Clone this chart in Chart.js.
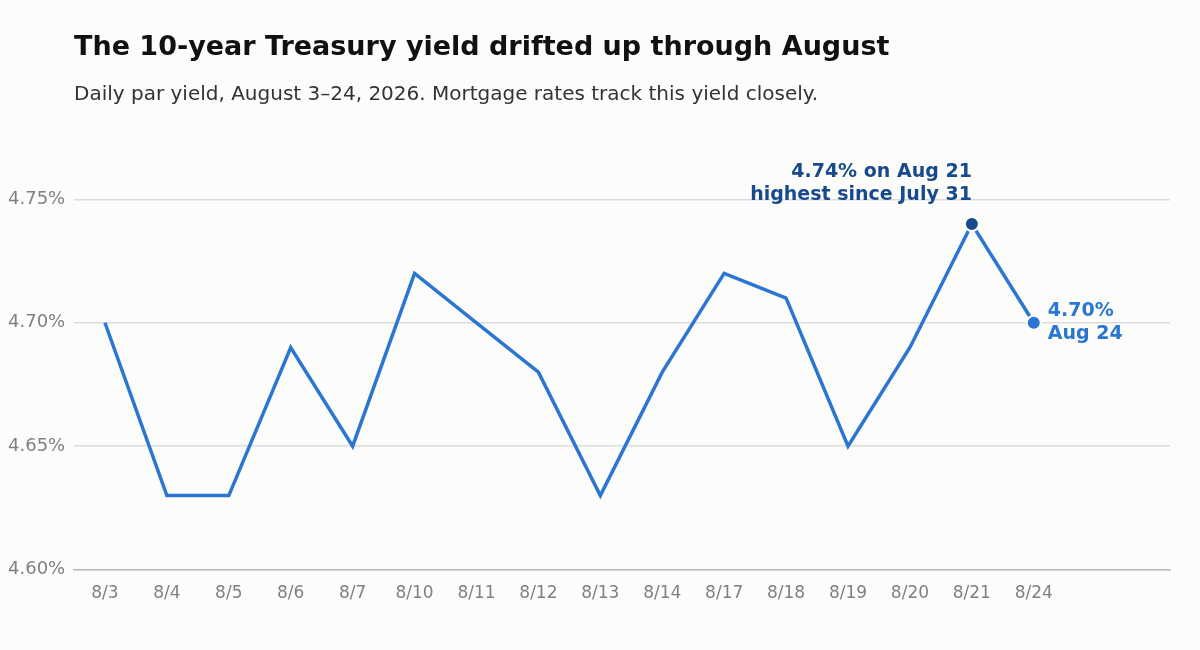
<!DOCTYPE html>
<html>
<head>
<meta charset="utf-8">
<script src="https://cdn.jsdelivr.net/npm/chart.js@4"></script>
<style>
  body { margin: 0; background: #fcfcfb; }
  #wrap { width: 1200px; height: 650px; position: relative; }
</style>
</head>
<body>
<div id="wrap"><canvas id="c"></canvas></div>
<script>
const dates = ['8/3','8/4','8/5','8/6','8/7','8/10','8/11','8/12','8/13','8/14','8/17','8/18','8/19','8/20','8/21','8/24'];
const yields = [4.70,4.63,4.63,4.69,4.65,4.72,4.70,4.68,4.63,4.68,4.72,4.71,4.65,4.69,4.74,4.70];
const yTicks = [4.60,4.65,4.70,4.75];

const blue = '#2a76d2';
const darkBlue = '#174a8c';
const font = '"DejaVu Sans", sans-serif';

// title, subtitle and callouts
const textPlugin = {
    id: 'texts',
    afterDraw(chart) {
        const ctx = chart.ctx;
        const x = chart.scales.x, y = chart.scales.y;
        ctx.save();
        ctx.textBaseline = 'middle';
        ctx.fillStyle = '#111';
        ctx.font = 'bold 27px ' + font;
        ctx.fillText('The 10-year Treasury yield drifted up through August', 74, 48);
        ctx.fillStyle = '#333';
        ctx.font = '20px ' + font;
        ctx.fillText('Daily par yield, August 3\u201324, 2026. Mortgage rates track this yield closely.', 74, 95);

        // peak callout
        const px = x.getPixelForValue(14), py = y.getPixelForValue(yields[14]);
        ctx.font = 'bold 19px ' + font;
        ctx.fillStyle = darkBlue;
        ctx.textAlign = 'right';
        ctx.fillText('4.74% on Aug 21', px, py - 52);
        ctx.fillText('highest since July 31', px, py - 29);

        // last value callout
        const lx = x.getPixelForValue(15), ly = y.getPixelForValue(yields[15]);
        ctx.fillStyle = blue;
        ctx.textAlign = 'left';
        ctx.fillText('4.70%', lx + 14, ly - 12);
        ctx.fillText('Aug 24', lx + 14, ly + 11);
        ctx.restore();
    }
};

new Chart(document.getElementById('c'), {
    type: 'line',
    data: {
        datasets: [{
            data: yields.map((v, i) => ({ x: i, y: v })),
            borderColor: blue,
            borderWidth: 3.5,
            tension: 0,
            pointRadius: yields.map((v, i) => i >= 14 ? 7 : 0),
            pointBackgroundColor: yields.map((v, i) => i === 14 ? darkBlue : blue),
            pointBorderColor: '#fcfcfb',
            pointBorderWidth: 2,
            clip: false
        }]
    },
    options: {
        responsive: true,
        maintainAspectRatio: false,
        animation: false,
        layout: { padding: { top: 150, right: 30, bottom: 40, left: 8 } },
        plugins: { legend: { display: false }, tooltip: { enabled: false } },
        scales: {
            x: {
                type: 'linear',
                min: -0.5,
                max: 17.2,
                afterBuildTicks: s => { s.ticks = dates.map((d, i) => ({ value: i })); },
                ticks: {
                    color: '#808080',
                    font: { size: 17, family: font },
                    callback: v => dates[v],
                    maxRotation: 0,
                    autoSkip: false,
                    padding: 6
                },
                grid: { display: false },
                border: { display: true, color: '#bbb', width: 1.5 }
            },
            y: {
                min: 4.60,
                max: 4.77,
                afterBuildTicks: s => { s.ticks = yTicks.map(v => ({ value: v })); },
                afterFit: s => { s.width = 66; },
                ticks: {
                    color: '#808080',
                    font: { size: 18, family: font },
                    callback: v => v.toFixed(2) + '%',
                    crossAlign: 'far',
                    padding: 6
                },
                grid: { color: '#dcdcdc', lineWidth: 1.5, drawTicks: false },
                border: { display: false }
            }
        }
    },
    plugins: [textPlugin]
});
</script>
</body>
</html>
